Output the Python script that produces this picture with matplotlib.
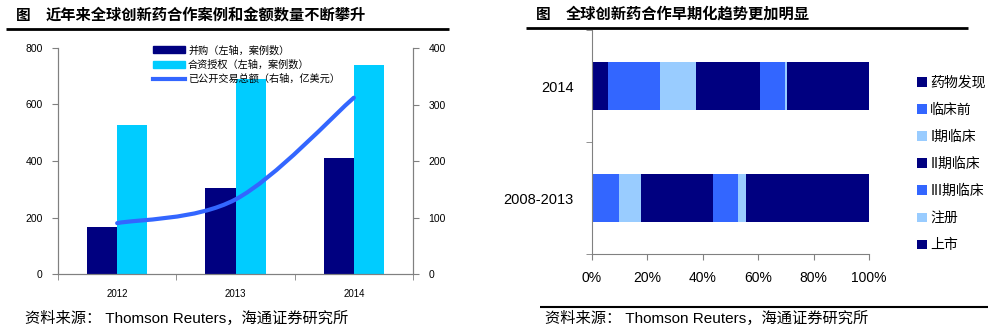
import matplotlib

matplotlib.use("Agg")
import matplotlib.pyplot as plt
import numpy as np
from matplotlib.lines import Line2D
from matplotlib.patches import PathPatch, Patch
from matplotlib.path import Path

plt.rcParams["font.family"] = ["Liberation Sans", "Noto Sans CJK SC", "DejaVu Sans"]
CJK = ["Noto Sans CJK SC", "DejaVu Sans"]

W, H = 992, 336

# left chart: deals per year
years = ["2012", "2013", "2014"]
mna = [167, 305, 410]            # 并购 (left axis, deals)
licensing = [528, 690, 740]      # 合资授权 (left axis, deals)
deal_value = [90, 132, 312]      # 已公开交易总额 (right axis, 亿美元)

# right chart: stage share of deals
periods = ["2008-2013", "2014"]
stages = ["药物发现", "临床前", "I期临床", "II期临床", "III期临床", "注册", "上市"]
stage_share = {
    "药物发现": [0.5, 5.8],
    "临床前": [9.2, 18.7],
    "I期临床": [8.0, 13.0],
    "II期临床": [26.0, 23.1],
    "III期临床": [9.0, 9.2],
    "注册": [2.9, 0.7],
    "上市": [44.4, 29.5],
}
stage_colors = ["#000080", "#3366FF", "#99CCFF", "#000080", "#3366FF", "#99CCFF", "#000080"]

NAVY, CYAN, LINE_BLUE, GRAY = "#000080", "#00CCFF", "#3366FF", "#808080"


def ax_rect(x0, y0, x1, y1):
    return [x0 / W, 1 - y1 / H, (x1 - x0) / W, (y1 - y0) / H]


def hline(fig, x0, x1, y, lw):
    fig.add_artist(Line2D([x0 / W, x1 / W], [1 - y / H, 1 - y / H], transform=fig.transFigure,
                          color="black", lw=lw, solid_capstyle="butt"))


def smooth_path(xs, ys):
    # Excel style smoothed line: cubic bezier segments through the points
    pts = np.column_stack([xs, ys]).astype(float)
    n = len(pts)
    verts, codes = [pts[0]], [Path.MOVETO]
    for i in range(n - 1):
        p_prev = pts[max(i - 1, 0)]
        p_next = pts[min(i + 2, n - 1)]
        c1 = pts[i] + (pts[i + 1] - p_prev) / 6
        c2 = pts[i + 1] - (p_next - pts[i]) / 6
        verts += [c1, c2, pts[i + 1]]
        codes += [Path.CURVE4] * 3
    return Path(verts, codes)


fig = plt.figure(figsize=(W / 100, H / 100), dpi=100)

# ---------------- left chart ----------------
ax = fig.add_axes(ax_rect(58, 48, 413, 274))
x = np.arange(len(years))
bw = 0.254
ax.bar(x - bw / 2, mna, bw, color=NAVY, label="并购（左轴，案例数）")
ax.bar(x + bw / 2, licensing, bw, color=CYAN, label="合资授权（左轴，案例数）")
ax.set_xlim(-0.5, 2.5)
ax.set_ylim(0, 800)
ax.set_yticks(range(0, 801, 200))
ax.set_xticks(x)
ax.set_xticklabels(years, fontsize=7)
ax.set_xticks(np.arange(-0.5, 2.6, 1), minor=True)
ax.tick_params(axis="x", which="major", length=0, pad=11)
ax.tick_params(axis="x", which="minor", length=4, color=GRAY, direction="out")
ax.tick_params(axis="y", length=4, color=GRAY, labelsize=7.5, pad=7)
ax.spines["top"].set_visible(False)
for s in ("left", "bottom", "right"):
    ax.spines[s].set_color(GRAY)

ax2 = ax.twinx()
ax2.set_ylim(0, 400)
ax2.set_yticks(range(0, 401, 100))
ax2.tick_params(axis="y", length=4, color=GRAY, labelsize=7.5, pad=7)
ax2.spines["top"].set_visible(False)
for s in ("left", "bottom", "right"):
    ax2.spines[s].set_color(GRAY)
ax2.add_patch(PathPatch(smooth_path(x, deal_value), fill=False, edgecolor=LINE_BLUE, lw=3, capstyle="round"))

handles = [Patch(color=NAVY), Patch(color=CYAN), Line2D([], [], color=LINE_BLUE, lw=3)]
labels = ["并购（左轴，案例数）", "合资授权（左轴，案例数）", "已公开交易总额（右轴，亿美元）"]
fig.legend(handles, labels, loc="upper left", bbox_to_anchor=(148 / W, 1 - 40 / H),
           frameon=False, borderpad=0, handlelength=3.1, handletextpad=0.35, labelspacing=0.42,
           prop={"family": CJK, "size": 7.3})

# ---------------- right chart ----------------
axr = fig.add_axes(ax_rect(592, 30, 869, 254))
y = np.arange(len(periods))
left = np.zeros(len(periods))
bars = []
for name, color in zip(stages, stage_colors):
    vals = np.array(stage_share[name]) / 100
    bars.append(axr.barh(y, vals, 0.42, left=left, color=color, label=name))
    left += vals
axr.set_xlim(0, 1)
axr.set_ylim(-0.5, 1.5)
axr.set_xticks(np.linspace(0, 1, 6))
axr.set_xticklabels([f"{int(v)}%" for v in np.linspace(0, 100, 6)], fontsize=10)
axr.set_yticks(y)
axr.set_yticklabels(periods, fontsize=10.5)
axr.set_yticks([-0.5, 0.5, 1.5], minor=True)
axr.tick_params(axis="y", which="major", length=0, pad=13)
axr.tick_params(axis="y", which="minor", length=4, color=GRAY)
axr.tick_params(axis="x", length=4, color=GRAY, pad=8)
for s in ("top", "right"):
    axr.spines[s].set_visible(False)
for s in ("left", "bottom"):
    axr.spines[s].set_color(GRAY)

fig.legend([b[0] for b in bars], stages, loc="upper left", bbox_to_anchor=(910 / W, 1 - 69 / H),
           frameon=False, borderpad=0, handlelength=0.7, handleheight=0.7, handletextpad=0.25,
           labelspacing=0.94, prop={"family": CJK, "size": 10})

# ---------------- titles and notes ----------------
fig.text(16 / W, 1 - 15 / H, "图", family=CJK, fontsize=10.5, weight="bold", va="center")
fig.text(46 / W, 1 - 15 / H, "近年来全球创新药合作案例和金额数量不断攀升", family=CJK, fontsize=11,
         weight="bold", va="center")
fig.text(536 / W, 1 - 14 / H, "图", family=CJK, fontsize=10.5, weight="bold", va="center")
fig.text(566 / W, 1 - 14 / H, "全球创新药合作早期化趋势更加明显", family=CJK, fontsize=11,
         weight="bold", va="center")
hline(fig, 6, 449, 29, 2)
hline(fig, 526, 968, 27.5, 2)
hline(fig, 540, 988, 307, 1.5)

src = "资料来源： Thomson Reuters，海通证券研究所"
fig.text(25 / W, 1 - 318 / H, src, fontsize=11, va="center")
fig.text(545 / W, 1 - 318 / H, src, fontsize=11, va="center")

fig.savefig("out.png", dpi=100)
